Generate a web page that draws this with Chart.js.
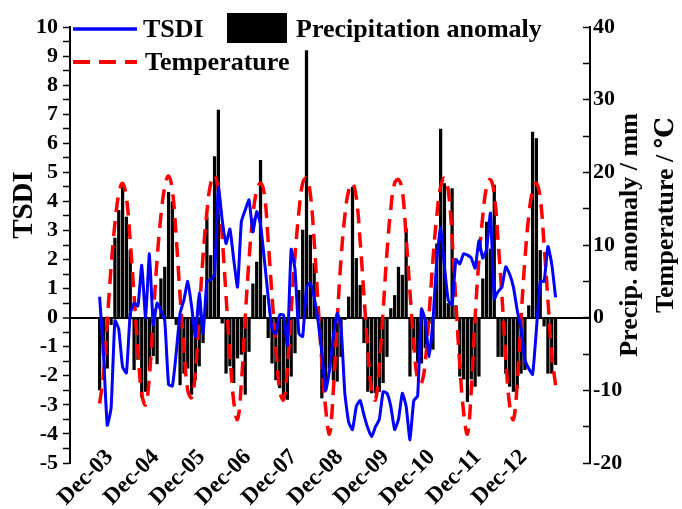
<!DOCTYPE html>
<html>
<head>
<meta charset="utf-8">
<script src="https://cdn.jsdelivr.net/npm/chart.js@4.4.1/dist/chart.umd.min.js"></script>
<style>
  html, body { margin: 0; padding: 0; background: #fff; }
</style>
</head>
<body>
<canvas id="chart" width="682" height="509"></canvas>
<script>
// monthly series, Jan 2003 .. Dec 2012 (index 0..119)
const tsdi = [
  0.72, -1.2, -3.7, -3.1, -0.1, -0.4, -1.7, -1.9, 0.15, 0.5, 0.4, 1.8,
  0, 2.2, -0.25, 0.5, 0.25, -0.1, -2.3, -2.35, -1.2, 0.15, 0.6, 1.25,
  0.4, -0.65, 0.85, -0.55, 1.25, 1.3, 1.5, 4.5, 3.35, 2.55, 3.05, 2.0,
  1.05, 3.3, 3.7, 4.05, 2.95, 3.65, 3.2, 2.0, 0.7, -0.4, -0.55, 0.1,
  0.1, -0.95, 2.35, 1.65, -0.55, -0.65, 1.05, 1.2, 0.7, -0.1, -1.2, -2.5,
  -1.8, -0.65, 0.15, -0.3, -2.6, -3.6, -3.85, -3.05, -2.85, -3.35, -3.8, -4.1,
  -3.75, -3.5, -2.55, -2.6, -3.05, -3.85, -3.5, -2.6, -3.05, -4.2, -2.85, -2.7,
  0.3, -0.1, -1.35, -0.1, 2.0, 3.1, 1.75, 0.6, 0.45, 2.0, 1.85, 2.2,
  2.15, 2.05, 1.7, 2.65, 2.05, 2.35, 3.6, 0.65, 0.9, 1.05, 1.75, 1.5,
  1.05, 0.25, -0.4, -1.45, -1.75, -1.95, -0.4, 1.25, 1.25, 2.45, 1.85, 0.7
];

const precip = [
  -10, -5, -7, -1, 11, 14.8, 18, 13.9, 9.3, -7.2, -5.8, -11,
  -10.2, -7.2, -5.3, -6.4, 5.4, 7, 17.3, 16, -1, -9.3, -7.7, -7,
  -10.6, -8.6, -6.7, -3.5, 13.9, 8.6, 22.2, 28.6, -0.8, -7.7, -6.7, -9,
  -5.6, -5.1, -10.6, -4.7, 4.7, 7.7, 21.7, 3.1, -2.8, -6.3, -8.6, -9.7,
  -11.3, -11.3, -8.1, -4.9, 3.8, 12.1, 36.8, 11.4, 7.5, -0.3, -11.1, -9.5,
  -7, -8.6, -8.8, -5.4, -0.3, 2.9, 18, 8.2, 4.5, -3.5, -10.2, -10.4,
  -10.4, -10.2, -9, -5.4, 1.3, 3.1, 7, 5.9, 12.3, -8.1, -4.4, -6.3,
  -6.3, -4.2, -0.8, -4.4, 10.2, 26, 18.5, 2, 17.8, 1.7, -8.1, -8.5,
  -11.6, -8.5, -9.5, -8.1, 5.4, 13.2, 9.5, 18.3, -5.4, -5.4, -7.7, -9.5,
  -10.2, -9.7, -7.7, -7.2, 1.7, 25.6, 24.7, 9.3, -1.2, -7.7, -7.7, -6.5
];

const temperature = [
  -11.8, -8, -0.5, 7, 13, 17, 18.5, 16.5, 10.5, 3, -4.5, -10.5,
  -12, -8, 0, 8, 14, 18, 19.5, 17.5, 11, 3, -4, -10,
  -11, -7.5, 0.5, 8.5, 14.5, 18.5, 19.6, 17.5, 11, 3, -5, -11.5,
  -14, -9, 0, 8, 14, 17.5, 18.5, 17, 10.5, 3, -4, -10,
  -11.3, -7, 1, 8.5, 14.5, 18.5, 19.2, 17, 10.5, 2, -6, -12.5,
  -16, -10, -0.5, 8, 14, 17.5, 18.5, 16.5, 10.5, 3, -4.5, -10,
  -11.3, -6.5, 1, 9, 15, 18.5, 19, 17.5, 11, 3.5, -3.5, -8.5,
  -9, -6, 0.5, 8, 14, 18, 19.2, 17.5, 11, 2, -6.5, -13,
  -16, -10, 0, 8, 14, 18, 19, 17, 10.5, 3, -5.5, -12,
  -14, -9, 0, 8, 14, 17.5, 18.5, 16.5, 10, 2.5, -5, -9.3
];

// x tick positions (month index) and their labels
const tickPos = [11, 23, 35, 47, 59, 71, 83, 95, 107, 119];
const tickLabels = ['Dec-03', 'Dec-04', 'Dec-05', 'Dec-06', 'Dec-07', 'Dec-08', 'Dec-09', 'Dec-10', 'Dec-11', 'Dec-12'];

const FONT = '"Liberation Serif", "Times New Roman", "DejaVu Serif", serif';

const toPoints = arr => arr.map((v, i) => ({ x: i, y: v }));

function rotText(ctx, text, x, y) {
    ctx.save();
    ctx.translate(x, y);
    ctx.rotate(-Math.PI / 2);
    ctx.fillText(text, 0, 0);
    ctx.restore();
}

// axis titles and the legend inside the plot
const extraText = {
    id: 'extraText',
    afterDraw(chart) {
        const ctx = chart.ctx;
        ctx.save();
        ctx.fillStyle = '#000';
        ctx.textAlign = 'center';
        ctx.textBaseline = 'middle';
        ctx.font = 'bold 29px ' + FONT;
        rotText(ctx, 'TSDI', 25, 205);
        ctx.font = 'bold 26px ' + FONT;
        rotText(ctx, 'Precip. anomaly / mm', 630, 235);
        rotText(ctx, 'Temperature / ℃', 666, 215);

        // legend
        ctx.textAlign = 'left';
        ctx.lineCap = 'butt';
        ctx.strokeStyle = '#0000ff';
        ctx.lineWidth = 3.5;
        ctx.beginPath();
        ctx.moveTo(73, 29);
        ctx.lineTo(137, 29);
        ctx.stroke();
        ctx.fillText('TSDI', 143, 30);

        ctx.fillStyle = '#000';
        ctx.fillRect(227, 13, 60, 30);
        ctx.fillText('Precipitation anomaly', 296, 30);

        ctx.strokeStyle = '#ff0000';
        ctx.lineWidth = 4;
        ctx.setLineDash([17, 9]);
        ctx.beginPath();
        ctx.moveTo(73, 62);
        ctx.lineTo(137, 62);
        ctx.stroke();
        ctx.setLineDash([]);
        ctx.fillText('Temperature', 145, 63);
        ctx.restore();
    }
};

const tickFont = { family: FONT, size: 22, weight: 'bold' };

new Chart(document.getElementById('chart').getContext('2d'), {
    type: 'bar',
    data: {
        datasets: [
            {
                type: 'line',
                label: 'TSDI',
                data: toPoints(tsdi),
                yAxisID: 'y',
                borderColor: '#0000ff',
                borderWidth: 3,
                pointRadius: 0,
                tension: 0.15,
                order: 1
            },
            {
                type: 'line',
                label: 'Temperature',
                data: toPoints(temperature),
                yAxisID: 'y2',
                borderColor: '#ff0000',
                borderWidth: 3.5,
                borderDash: [15, 9],
                pointRadius: 0,
                tension: 0.4,
                order: 2
            },
            {
                type: 'bar',
                label: 'Precipitation anomaly',
                data: toPoints(precip),
                yAxisID: 'y2',
                backgroundColor: '#000',
                barPercentage: 0.85,
                categoryPercentage: 1,
                order: 3
            }
        ]
    },
    options: {
        responsive: false,
        animation: false,
        devicePixelRatio: 1,
        layout: { padding: { top: 27, left: 0, right: 0, bottom: 0 } },
        plugins: {
            legend: { display: false },
            tooltip: { enabled: false }
        },
        scales: {
            x: {
                type: 'linear',
                min: -0.94,
                max: 121.2,
                grid: { display: false },
                border: { display: false },
                afterBuildTicks: scale => { scale.ticks = tickPos.map(v => ({ value: v })); },
                afterFit: scale => {
                    scale.height = 46;
                    // labels reach a little above the axis line, so no clipping
                    scale._computeLabelArea = () => undefined;
                },
                ticks: {
                    autoSkip: false,
                    minRotation: 45,
                    maxRotation: 45,
                    padding: -27,
                    labelOffset: -32,
                    color: '#000',
                    font: { family: FONT, size: 23, weight: 'bold' },
                    callback: v => tickLabels[tickPos.indexOf(v)]
                }
            },
            y: {
                position: 'left',
                min: -5,
                max: 10,
                afterFit: scale => { scale.width = 70; },
                border: { color: '#000', width: 2 },
                grid: {
                    color: c => c.tick && c.tick.value === 0 ? '#000' : 'rgba(0,0,0,0)',
                    lineWidth: c => c.tick && c.tick.value === 0 ? 2 : 1,
                    tickColor: '#000',
                    tickLength: 7,
                    tickWidth: 1.5
                },
                ticks: {
                    stepSize: 0.5,
                    autoSkip: false,
                    padding: 5,
                    color: '#000',
                    font: tickFont,
                    callback: v => Number.isInteger(v) ? String(v) : ''
                }
            },
            y2: {
                position: 'right',
                min: -20,
                max: 40,
                afterFit: scale => { scale.width = 92; },
                border: { color: '#000', width: 2 },
                grid: {
                    drawOnChartArea: false,
                    tickColor: '#000',
                    tickLength: -7,
                    tickWidth: 1.5
                },
                ticks: {
                    stepSize: 5,
                    autoSkip: false,
                    padding: 10,
                    color: '#000',
                    font: tickFont,
                    callback: v => v % 10 === 0 ? String(v) : ''
                }
            }
        }
    },
    plugins: [extraText]
});
</script>
</body>
</html>
